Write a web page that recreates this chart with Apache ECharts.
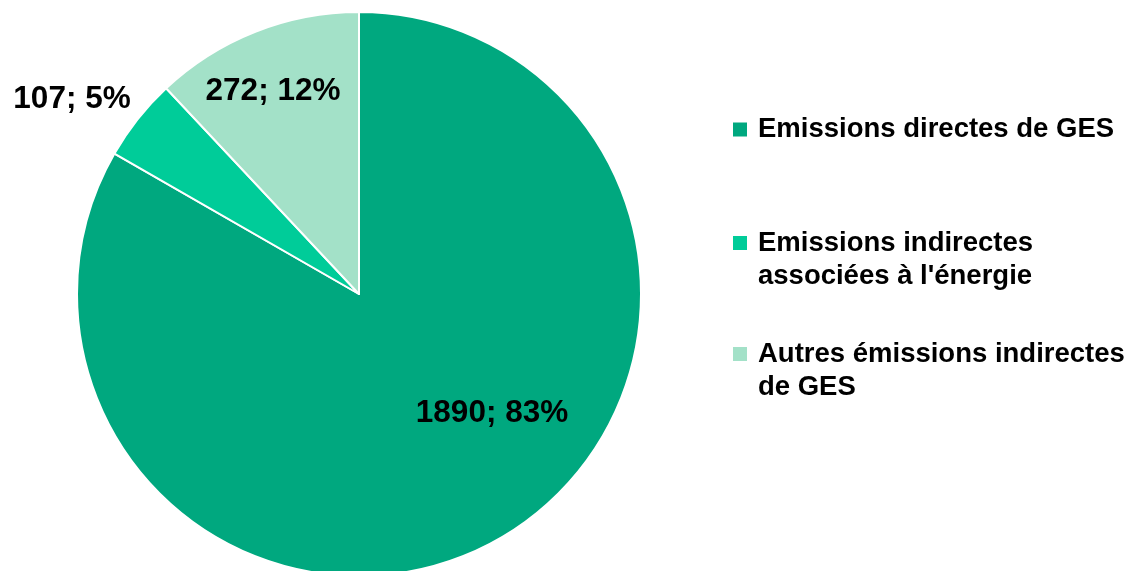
<!DOCTYPE html>
<html>
<head>
<meta charset="utf-8">
<script src="https://cdn.jsdelivr.net/npm/echarts@6/dist/echarts.min.js"></script>
<style>
html,body{margin:0;padding:0;background:#fff;}
#main{width:1130px;height:571px;}
</style>
</head>
<body>
<div id="main"></div>
<script>
const categories = ["Emissions directes de GES", "Emissions indirectes associées à l'énergie", "Autres émissions indirectes de GES"];
const legendLabels = ["Emissions directes de GES", "Emissions indirectes\nassociées à l'énergie", "Autres émissions indirectes\nde GES"];
const values = [1890, 107, 272];
const colors = ['#00A87F', '#00CC99', '#A3E1C8'];

const labelPos = [[492, 413], [72, 99], [273, 91]];
const legendIconCenters = [129.5, 243, 354];
const FONT = "'Liberation Sans', Arial, sans-serif";

const chart = echarts.init(document.getElementById('main'), null, {renderer: 'canvas'});

const legends = categories.map((name, i) => {
  const multi = legendLabels[i].indexOf('\n') >= 0;
  return {
    show: true,
    orient: 'vertical',
    left: 731,
    top: legendIconCenters[i] - (multi ? 49.5 : 16.5),
    padding: 0,
    icon: 'rect',
    itemWidth: 16,
    itemHeight: 16,
    selectedMode: false,
    data: [name],
    // leading blank line keeps the icon level with the first text line
    formatter: () => (multi ? '\n' : '') + legendLabels[i],
    textStyle: {
      fontFamily: FONT,
      fontWeight: 'bold',
      fontSize: 27.5,
      lineHeight: 33,
      color: '#000',
      padding: [0, 0, 0, 5]
    }
  };
});

chart.setOption({
  animation: false,
  backgroundColor: '#fff',
  legend: legends,
  series: [{
    type: 'pie',
    center: [359, 294],
    radius: [0, 282],
    startAngle: 90,
    clockwise: true,
    avoidLabelOverlap: false,
    itemStyle: { borderColor: '#fff', borderWidth: 2 },
    label: {
      show: true,
      position: 'inside',
      fontFamily: FONT,
      fontWeight: 'bold',
      fontSize: 31.5,
      color: '#000',
      formatter: p => p.value + '; ' + Math.round(p.percent) + '%'
    },
    labelLine: { show: false },
    labelLayout: p => ({ x: labelPos[p.dataIndex][0], y: labelPos[p.dataIndex][1], align: 'center', verticalAlign: 'middle' }),
    emphasis: { disabled: true },
    data: categories.map((c, i) => ({ name: c, value: values[i], itemStyle: { color: colors[i] } }))
  }]
});
</script>
</body>
</html>
